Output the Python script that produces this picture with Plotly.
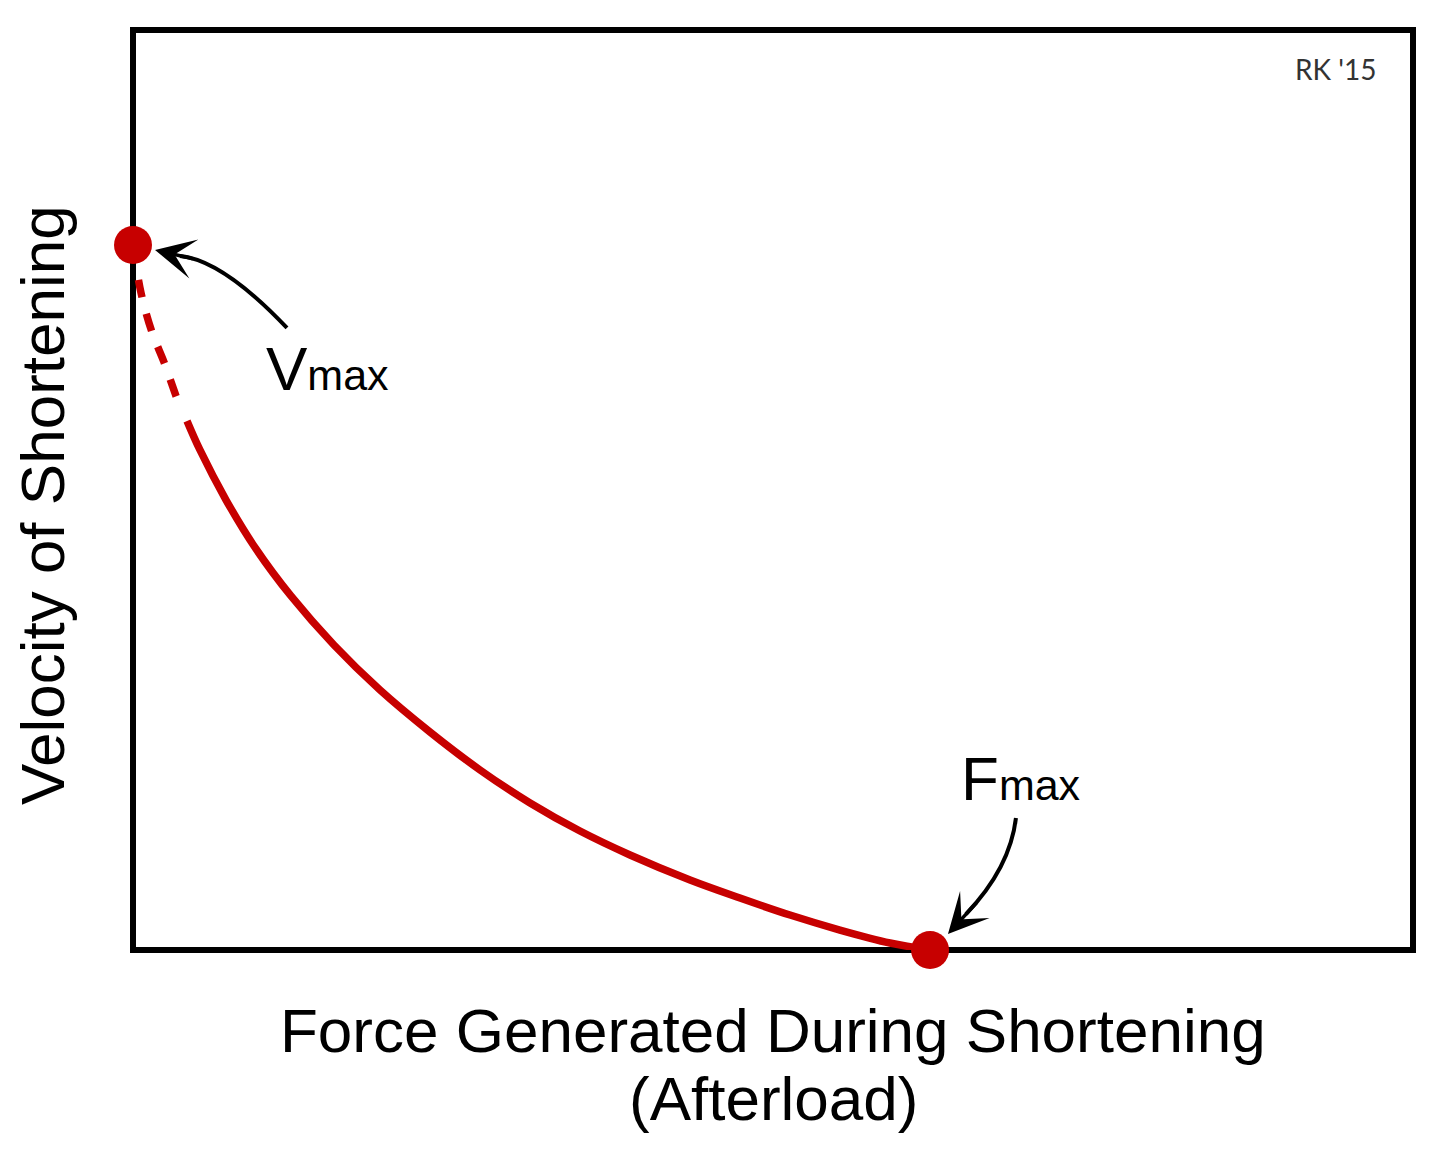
import plotly.graph_objects as go

# Force (x, 0-100) and velocity (y, 0-100)
dash_force = [0.0, 0.63, 1.48, 2.42, 3.36, 3.59]
dash_velocity = [76.63, 71.41, 67.17, 63.91, 60.22, 59.35]

solid_force = [4.22, 5.23, 7.27, 9.61, 12.34, 15.70, 19.30, 23.20, 27.11, 31.02,
               34.92, 38.83, 43.52, 47.42, 51.33, 55.23, 59.14, 62.27]
solid_velocity = [57.50, 54.35, 48.91, 43.59, 38.48, 33.15, 28.26, 23.70, 19.57, 15.98,
                  12.93, 10.33, 7.61, 5.65, 3.80, 2.17, 0.76, 0.0]

point_force = [0.0, 62.27]
point_velocity = [76.63, 0.0]

x_title = ["Force Generated During Shortening", "(Afterload)"]
y_title = "Velocity of Shortening"

RED = "#c70000"
FONT = "Liberation Sans, Arial, sans-serif"

fig = go.Figure()
fig.add_trace(go.Scatter(x=dash_force, y=dash_velocity, mode="lines",
                         line=dict(color=RED, width=7.5, dash="18px,17px", shape="spline",
                                   simplify=False),
                         cliponaxis=False, hoverinfo="skip"))
fig.add_trace(go.Scatter(x=solid_force, y=solid_velocity, mode="lines",
                         line=dict(color=RED, width=7.5, shape="spline", simplify=False),
                         cliponaxis=False, hoverinfo="skip"))
fig.add_trace(go.Scatter(x=point_force, y=point_velocity, mode="markers",
                         marker=dict(color=RED, size=38),
                         cliponaxis=False, hoverinfo="skip"))

shapes = [
    dict(type="rect", xref="paper", yref="paper", x0=0, x1=1, y0=0, y1=1,
         line=dict(color="black", width=6), layer="below"),
    # curved arrow bodies
    dict(type="path", xref="x", yref="y",
         path="M 12.03,67.61 Q 6.99,75.0 3.67,75.43",
         line=dict(color="black", width=4)),
    dict(type="path", xref="x", yref="y",
         path="M 68.98,14.35 Q 68.52,8.91 65.08,3.91",
         line=dict(color="black", width=4)),
]

annotations = [
    dict(x=1.72, y=76.09, ax=4.8, ay=75.1, xref="x", yref="y", axref="x", ayref="y",
         text="", showarrow=True, arrowhead=3, arrowsize=1.9, arrowwidth=3.5,
         arrowcolor="black"),
    dict(x=63.67, y=1.74, ax=66.0, ay=5.3, xref="x", yref="y", axref="x", ayref="y",
         text="", showarrow=True, arrowhead=3, arrowsize=1.9, arrowwidth=3.5,
         arrowcolor="black"),
    dict(x=10.2, y=63.26, xref="x", yref="y", xanchor="left", yanchor="middle",
         text="V<span style='font-size:43px'>max</span>", showarrow=False,
         font=dict(family=FONT, size=62, color="black")),
    dict(x=64.5, y=18.59, xref="x", yref="y", xanchor="left", yanchor="middle",
         text="F<span style='font-size:43px'>max</span>", showarrow=False,
         font=dict(family=FONT, size=62, color="black")),
    dict(x=0.5, y=-0.087, xref="paper", yref="paper", xanchor="center", yanchor="middle",
         text=x_title[0], showarrow=False, font=dict(family=FONT, size=62, color="black")),
    dict(x=0.5, y=-0.161, xref="paper", yref="paper", xanchor="center", yanchor="middle",
         text=x_title[1], showarrow=False, font=dict(family=FONT, size=62, color="black")),
    dict(x=-0.0703, y=0.4837, xref="paper", yref="paper", xanchor="center", yanchor="middle",
         text=y_title, textangle=-90, showarrow=False,
         font=dict(family=FONT, size=62, color="black")),
    dict(x=0.9727, y=0.9576, xref="paper", yref="paper", xanchor="right", yanchor="middle",
         text="RK '15", showarrow=False,
         font=dict(family="Lato, sans-serif", size=28, color="#333333")),
]

fig.update_layout(
    width=1430, height=1141,
    margin=dict(l=125, r=25, t=22, b=199),
    paper_bgcolor="white", plot_bgcolor="white",
    showlegend=False,
    shapes=shapes, annotations=annotations,
    xaxis=dict(range=[0, 100], showgrid=False, zeroline=False, showticklabels=False,
               ticks="", showline=False, fixedrange=True),
    yaxis=dict(range=[0, 100], showgrid=False, zeroline=False, showticklabels=False,
               ticks="", showline=False, fixedrange=True),
)

fig.write_html("out.html")
